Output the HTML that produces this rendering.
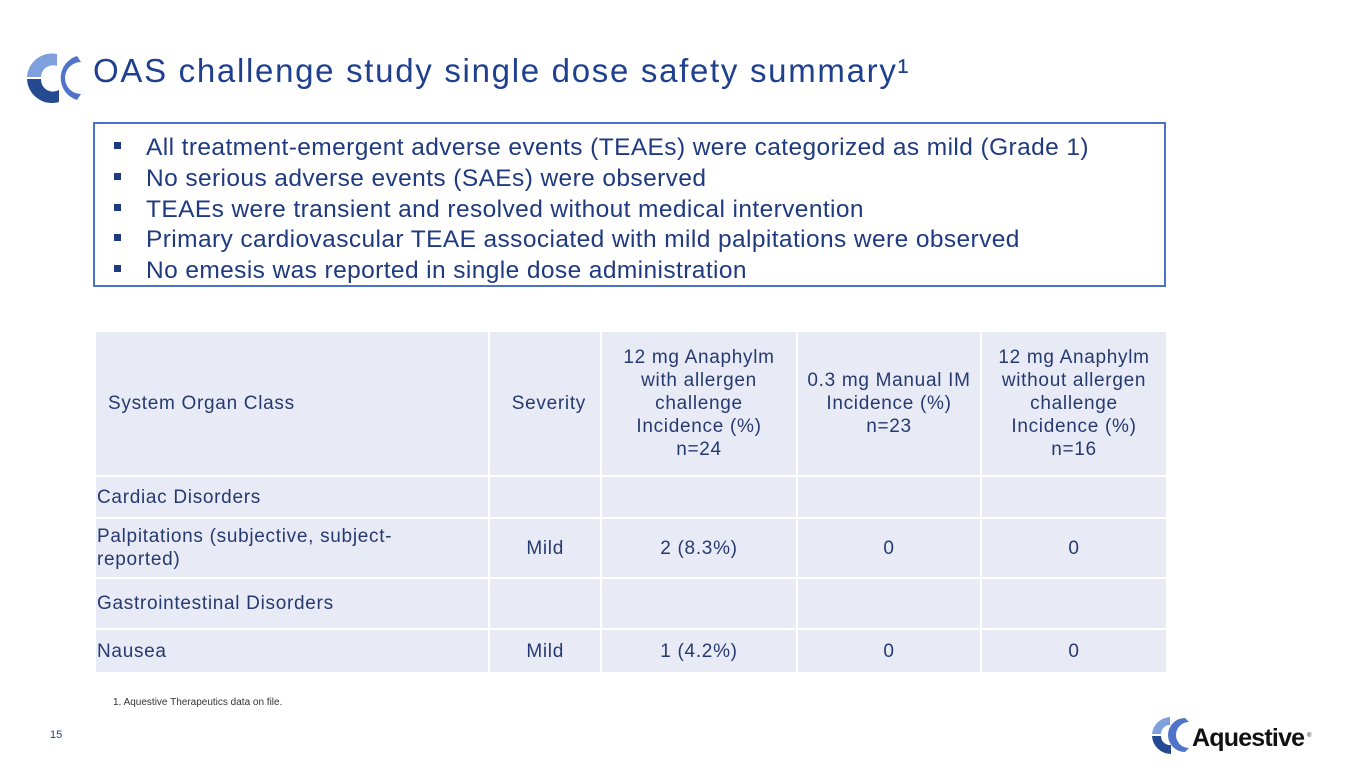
<!DOCTYPE html>
<html><head><meta charset="utf-8"><style>
body{margin:0;width:1365px;height:768px;background:#fff;position:relative;overflow:hidden;font-family:"Liberation Sans",sans-serif;}
.abs{position:absolute;}
#title{left:93px;top:52px;font-size:33px;color:#1f3f8f;letter-spacing:1.7px;white-space:nowrap;}
#box{left:93px;top:122px;width:1069px;height:161px;border:2px solid #4a72c8;}
#box ul{margin:0;padding:0;list-style:none;position:absolute;left:19px;top:9px;}
#box li{font-size:24.5px;color:#1f3a80;line-height:30.8px;white-space:nowrap;letter-spacing:0.4px;}
#box li span.b{display:inline-block;width:7px;height:7px;background:#1f3a80;margin-right:25px;vertical-align:middle;position:relative;top:-3px;}
table{position:absolute;left:94px;top:330px;width:1072px;table-layout:fixed;border-collapse:collapse;font-size:19px;color:#263a70;letter-spacing:0.7px;}
td{background:#e8eaf5;border:2px solid #fff;text-align:center;padding:0 2px;line-height:23px;overflow:hidden;}
td.l{text-align:left;padding-left:1px;}
#foot{left:113px;top:697px;font-size:10px;color:#333;}
#pg{left:50px;top:729px;font-size:11px;color:#1f3f8f;}
</style></head><body>
<svg class="abs" style="left:25px;top:52px" width="60" height="52" viewBox="0 0 60 52">
<path d="M32 2 A25 25 0 0 0 2 25 L16 25 A12 12 0 0 1 32 14 Z" fill="#7fa0dc"/>
<path d="M2 27 A25 25 0 0 0 34 50 L34 38 A12 12 0 0 1 16 27 Z" fill="#264a91"/>
<path d="M52 4 A23 23 0 0 0 52 48 L56 42 A15 15 0 0 1 56 10 Z" fill="#4f74c8"/>
</svg>
<div id="title" class="abs">OAS challenge study single dose safety summary¹</div>
<div id="box" class="abs"><ul>
<li><span class="b"></span>All treatment-emergent adverse events (TEAEs) were categorized as mild (Grade 1)</li>
<li><span class="b"></span>No serious adverse events (SAEs) were observed</li>
<li><span class="b"></span>TEAEs were transient and resolved without medical intervention</li>
<li><span class="b"></span>Primary cardiovascular TEAE associated with mild palpitations were observed</li>
<li><span class="b"></span>No emesis was reported in single dose administration</li>
</ul></div>
<table>
<colgroup><col style="width:394px"><col style="width:112px"><col style="width:196px"><col style="width:184px"><col style="width:186px"></colgroup>
<tr style="height:145px"><td class="l" style="padding-left:12px">System Organ Class</td><td style="text-align:right;padding-right:14px">Severity</td><td>12 mg Anaphylm<br>with allergen<br>challenge<br>Incidence (%)<br>n=24</td><td>0.3 mg Manual IM<br>Incidence (%)<br>n=23</td><td>12 mg Anaphylm<br>without allergen<br>challenge<br>Incidence (%)<br>n=16</td></tr>
<tr style="height:42px"><td class="l">Cardiac Disorders</td><td></td><td></td><td></td><td></td></tr>
<tr style="height:60px"><td class="l">Palpitations (subjective, subject-<br>reported)</td><td style="text-align:right;padding-right:36px">Mild</td><td>2 (8.3%)</td><td>0</td><td>0</td></tr>
<tr style="height:51px"><td class="l">Gastrointestinal Disorders</td><td></td><td></td><td></td><td></td></tr>
<tr style="height:44px"><td class="l">Nausea</td><td style="text-align:right;padding-right:36px">Mild</td><td>1 (4.2%)</td><td>0</td><td>0</td></tr>
</table>
<div id="foot" class="abs">1. Aquestive Therapeutics data on file.</div>
<div id="pg" class="abs">15</div>
<svg class="abs" style="left:1150px;top:715px" width="165" height="40" viewBox="0 0 165 40">
<path d="M20 2 A19 19 0 0 0 2 19 L11 19 A9 9 0 0 1 20 10 Z" fill="#7fa0dc"/>
<path d="M2 21 A19 19 0 0 0 21 39 L21 30 A9 9 0 0 1 11 21 Z" fill="#264a91"/>
<path d="M35 3 A17 17 0 0 0 35 37 L39 33 A11 11 0 0 1 39 7 Z" fill="#4f74c8"/>
<text x="42" y="31" font-family="Liberation Sans, sans-serif" font-size="25" fill="#111" font-weight="bold" letter-spacing="-0.8">Aquestive</text>
<text x="157" y="22" font-family="Liberation Sans, sans-serif" font-size="6" fill="#111">®</text>
</svg>
</body></html>
